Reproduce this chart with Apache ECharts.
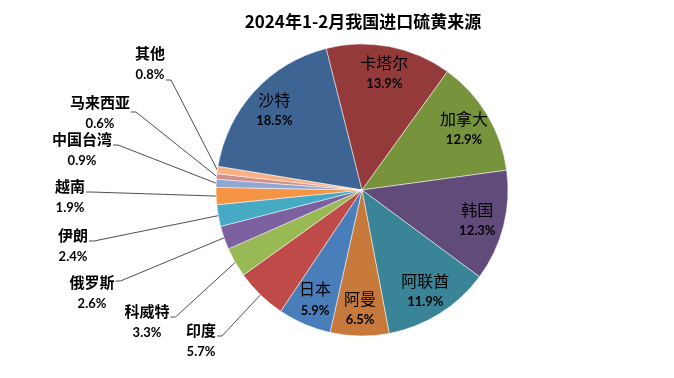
<!DOCTYPE html>
<html>
<head>
<meta charset="utf-8">
<script src="https://cdn.jsdelivr.net/npm/echarts@6/dist/echarts.min.js"></script>
<style>
  html, body { margin: 0; padding: 0; background: #fff; }
  #chart { width: 674px; height: 378px; }
</style>
</head>
<body>
<div id="chart"></div>
<script>
const sources = ['沙特', '卡塔尔', '加拿大', '韩国', '阿联酋', '阿曼', '日本', '印度', '科威特', '俄罗斯', '伊朗', '越南', '中国台湾', '马来西亚', '其他'];
const shares = [18.5, 13.9, 12.9, 12.3, 11.9, 6.5, 5.9, 5.7, 3.3, 2.6, 2.4, 1.9, 0.9, 0.6, 0.8];
const sliceColors = ['#3E6493', '#953A3A', '#77933C', '#614B7A', '#398497', '#C6793A', '#4A7EBB',
  '#BE4B48', '#98B954', '#7D60A0', '#46AAC5', '#F69446', '#8EA8D0', '#D08E8C', '#F8B084'];
const insideCount = 7; // big slices carry their label inside

// label block centre for the small slices + where the leader leaves it (dy from centre)
const outsideLabelPos = {
  '印度': [201, 341, -5], '科威特': [147, 322, -5], '俄罗斯': [92, 293, -12], '伊朗': [73, 246, -5],
  '越南': [70, 197, -5], '中国台湾': [82, 150, -5], '马来西亚': [100, 113, -1], '其他': [150, 64, 16],
};

const chart = echarts.init(document.getElementById('chart'));
const center = [362, 190];
const startAngle = 170.7;
const cjk = '"Noto Sans CJK SC", sans-serif';

const pieData = sources.map((name, i) => ({
  name,
  value: shares[i],
  itemStyle: { color: sliceColors[i] },
}));

chart.setOption({
  animation: false,
  title: {
    text: '2024年1-2月我国进口硫黄来源',
    left: 358, top: 8, textAlign: 'center',
    textStyle: { fontFamily: cjk, fontSize: 17, fontWeight: 'bold', color: '#000' },
  },
  series: [
    {
      type: 'pie',
      center, radius: 146, startAngle, clockwise: true,
      avoidLabelOverlap: false,
      itemStyle: { borderColor: '#fff', borderWidth: 0.5 },
      data: pieData.map((d, i) => ({
        ...d,
        label: { show: i >= insideCount },
        labelLine: { show: i >= insideCount },
      })),
      label: {
        position: 'outside',
        formatter: p => `{n|${p.name}}\n{p|${p.value.toFixed(1)}%}`,
        rich: {
          n: { fontFamily: cjk, fontSize: 15, fontWeight: 'bold', color: '#000', lineHeight: 21, align: 'center' },
          p: { fontFamily: 'Lato, sans-serif', fontSize: 13, fontWeight: 'bold', color: '#000', lineHeight: 21, align: 'center' },
        },
      },
      labelLine: { lineStyle: { color: '#222', width: 0.8 } },
      labelLayout: p => {
        const pos = outsideLabelPos[sources[p.dataIndex]];
        if (!pos) return {};
        // straight leader from the label's right end to the slice edge
        const ax = pos[0] + p.labelRect.width / 2 + 1;
        const ay = pos[1] + pos[2];
        const edge = p.labelLinePoints ? p.labelLinePoints[0] : [ax + 40, ay];
        return {
          x: pos[0], y: pos[1], align: 'center', verticalAlign: 'middle',
          labelLinePoints: [[ax, ay], [ax + 5, ay], edge],
        };
      },
      emphasis: { disabled: true },
    },
    {
      // transparent ring used only to place the inside labels further out
      type: 'pie',
      center, radius: [86, 146], startAngle, clockwise: true,
      silent: true,
      itemStyle: { color: 'rgba(0,0,0,0)' },
      data: pieData.map((d, i) => ({
        name: d.name, value: d.value,
        label: { show: i < insideCount },
      })),
      label: {
        position: 'inside',
        formatter: p => `{n|${p.name}}\n{p|${p.value.toFixed(1)}%}`,
        rich: {
          n: { fontFamily: cjk, fontSize: 16, color: '#000', lineHeight: 22, align: 'center' },
          p: { fontFamily: 'Lato, sans-serif', fontSize: 13, fontWeight: 'bold', color: '#000', lineHeight: 20, align: 'center' },
        },
      },
      labelLine: { show: false },
      emphasis: { disabled: true },
    },
  ],
});
</script>
</body>
</html>
